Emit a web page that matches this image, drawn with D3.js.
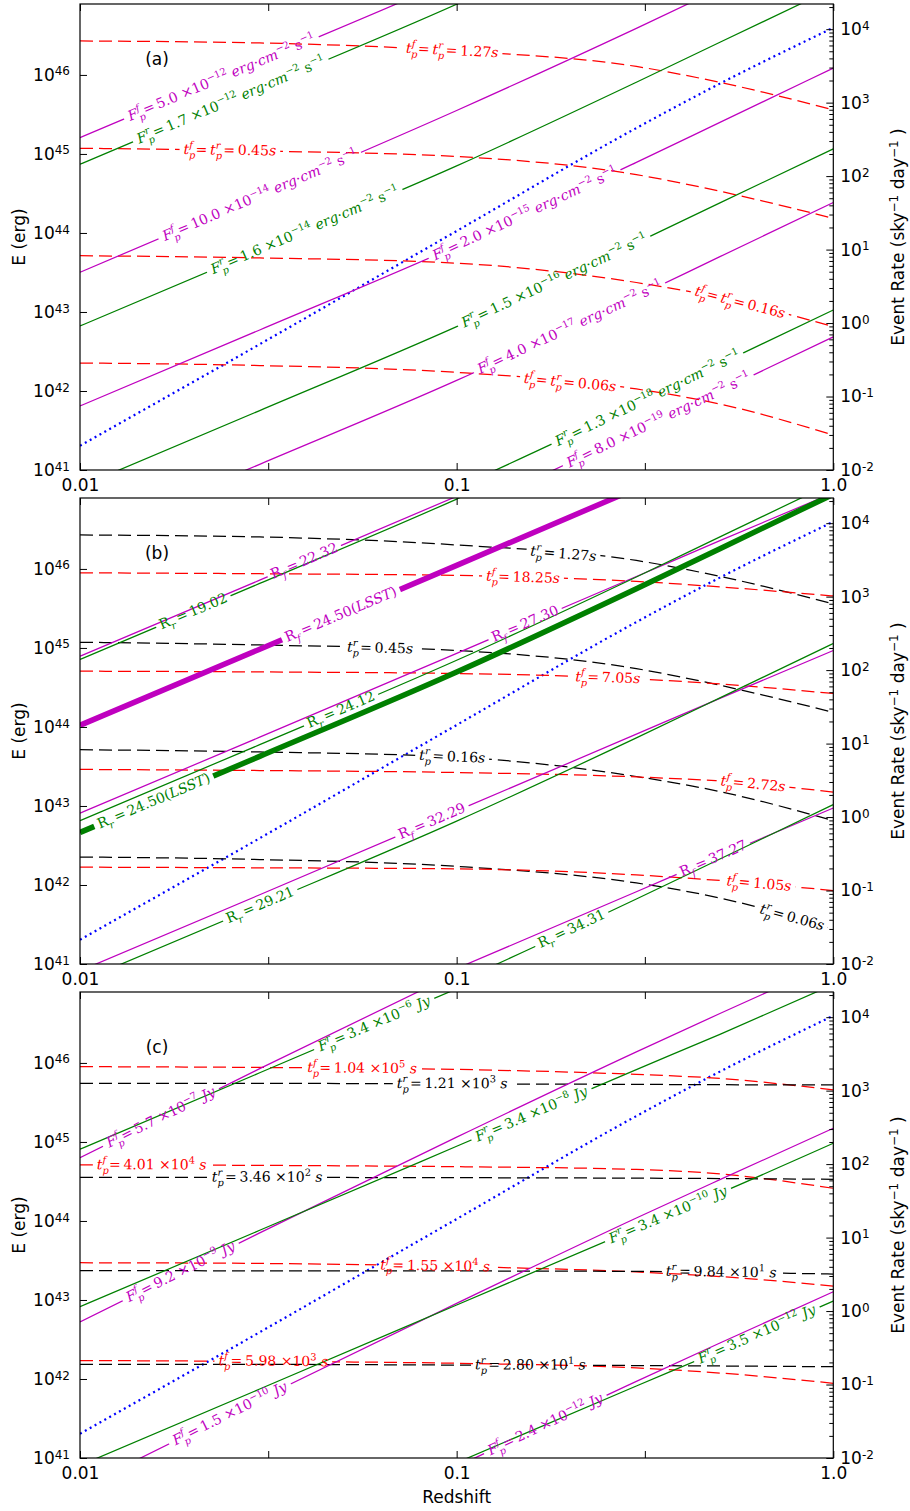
<!DOCTYPE html>
<html>
<head>
<meta charset="utf-8">
<script src="https://cdn.jsdelivr.net/npm/d3@7"></script>
<style>
  body { margin: 0; background: #fff; }
</style>
</head>
<body>
<div id="chart"></div>
<script>
// redshift grid shared by every curve
const zs = [0.01, 0.03, 0.1, 0.3, 0.5, 1.0];

// event rate (sky^-1 day^-1), right axis, same in all panels
const rate = [0.0214, 0.515, 17.9, 451, 1815, 10470];

// peak times, E (erg) along zs
const t127 = [2.69e46, 2.54e46, 2.01e46, 1.28e46, 8.05e45, 3.61e45];
const t045 = [1.18e45, 1.09e45, 9.29e44, 5.47e44, 3.37e44, 1.53e44];
const t016 = [5.15e43, 4.83e43, 4.14e43, 2.36e43, 1.52e43, 6.52e42];
const t006 = [2.26e42, 2.10e42, 1.72e42, 1.06e42, 6.84e41, 2.77e41];

// (a) peak flux curves
const aF50e12 = [1.61e45, 1.47e46, 1.70e47, 1.95e48, 6.25e48, 3.03e49];
const aR17e12 = [7.41e44, 6.79e45, 7.85e46, 8.99e47, 2.88e48, 1.40e49];
const aF10e14 = [3.18e43, 2.95e44, 3.55e45, 3.89e46, 1.23e47, 6.03e47];
const aR16e14 = [6.65e42, 6.10e43, 7.05e44, 8.07e45, 2.59e46, 1.25e47];
const aF20e15 = [6.46e41, 5.92e42, 6.84e43, 7.83e44, 2.51e45, 1.22e46];
const aR15e16 = [6.17e40, 5.65e41, 6.53e42, 7.48e43, 2.40e44, 1.16e45];
const aF40e17 = [1.29e40, 1.18e41, 1.36e42, 1.56e43, 5.01e43, 2.43e44];
const aR13e18 = [5.62e38, 5.15e39, 5.96e40, 6.82e41, 2.19e42, 1.06e43];
const aF80e19 = [2.57e38, 2.36e39, 2.72e40, 3.12e41, 1.00e42, 4.84e42];

// (b) R-band magnitude curves
const bRf2232 = [7.87e44, 7.21e45, 8.30e46, 7.78e47, 2.21e48, 8.91e48];
const bRf2450 = [1.05e44, 9.64e44, 1.11e46, 1.04e47, 2.95e47, 1.19e48];
const bRf2730 = [8.11e42, 7.43e43, 8.55e44, 8.02e45, 2.28e46, 9.18e46];
const bRf3229 = [8.20e40, 7.52e41, 8.65e42, 8.11e43, 2.30e44, 9.29e44];
const bRf3727 = [8.32e38, 7.62e39, 8.77e40, 8.22e41, 2.33e42, 9.42e42];
const bRr1902 = [7.14e44, 6.55e45, 7.66e46, 8.67e47, 2.78e48, 1.36e49];
const bRr2412 = [6.52e42, 5.97e43, 6.98e44, 7.91e45, 2.54e46, 1.24e47];
const bRr2450 = [4.62e42, 4.24e43, 4.95e44, 5.61e45, 1.80e46, 8.81e46];
const bRr2921 = [6.00e40, 5.50e41, 6.43e42, 7.28e43, 2.33e44, 1.14e45];
const bRr3431 = [5.47e38, 5.01e39, 5.86e40, 6.64e41, 2.13e42, 1.04e43];
const bTf1825 = [8.93e45, 8.69e45, 8.28e45, 6.95e45, 5.92e45, 4.55e45];
const bTf705 = [5.08e44, 4.97e44, 4.75e44, 4.06e44, 3.50e44, 2.65e44];
const bTf272 = [2.90e43, 2.81e43, 2.65e43, 2.33e43, 2.07e43, 1.50e43];
const bTf105 = [1.68e42, 1.65e42, 1.60e42, 1.34e42, 1.14e42, 8.51e41];

// (c) radio curves
const cFf57e7 = [6.32e44, 8.47e45, 1.37e47, 1.66e48, 5.06e48, 2.26e49];
const cFr34e6 = [8.09e44, 7.50e45, 8.67e46, 8.11e47, 2.26e48, 9.66e48];
const cFf92e9 = [5.27e42, 7.06e43, 1.15e45, 1.38e46, 4.22e46, 1.88e47];
const cFr34e8 = [8.22e42, 7.62e43, 8.81e44, 8.24e45, 2.30e46, 9.82e46];
const cFf15e10 = [4.17e40, 5.58e41, 9.06e42, 1.09e44, 3.33e44, 1.49e45];
const cFr34e10 = [8.05e40, 7.46e41, 8.63e42, 8.07e43, 2.25e44, 9.62e44];
const cFf24e12 = [3.56e38, 4.78e39, 7.74e40, 9.33e41, 2.85e42, 1.27e43];
const cFr35e12 = [8.13e38, 7.53e39, 8.71e40, 8.15e41, 2.28e42, 9.70e42];
const cTf104e5 = [8.97e45, 8.77e45, 8.28e45, 7.15e45, 6.37e45, 4.55e45];
const cTr121e3 = [5.53e45, 5.52e45, 5.42e45, 5.35e45, 5.30e45, 5.27e45];
const cTf401e4 = [5.12e44, 5.05e44, 4.86e44, 4.49e44, 3.94e44, 2.59e44];
const cTr346e2 = [3.57e44, 3.56e44, 3.53e44, 3.48e44, 3.44e44, 3.37e44];
const cTf155e4 = [2.96e43, 2.90e43, 2.65e43, 2.26e43, 1.98e43, 1.50e43];
const cTr984e1 = [2.35e43, 2.34e43, 2.33e43, 2.30e43, 2.24e43, 2.13e43];
const cTf598e3 = [1.71e42, 1.67e42, 1.58e42, 1.38e42, 1.19e42, 8.83e41];
const cTr280e1 = [1.53e42, 1.53e42, 1.50e42, 1.48e42, 1.46e42, 1.43e42];

// axis ticks
const xTickVals = [0.01, 0.0316, 0.1, 0.316, 1.0];
const xTickLabels = ['0.01', '', '0.1', '', '1.0'];
const eTicks = [1e41, 1e42, 1e43, 1e44, 1e45, 1e46];
const rTicks = [1e-2, 1e-1, 1e0, 1e1, 1e2, 1e3, 1e4];

const M = '#bf00bf', G = '#008000', R = '#ff0000', K = '#000000', B = '#0000ff';
const UNIT = ' erg·cm^{−2} ~s~^{−1}';

const panels = [
  { tag: '(a)', curves: [
    { v: t127, c: R, dash: true, t: 't_{p}^{f} = t_{p}^{r} = 1.27s', at: 0.0973 },
    { v: t045, c: R, dash: true, t: 't_{p}^{f} = t_{p}^{r} = 0.45s', at: 0.0250 },
    { v: t016, c: R, dash: true, t: 't_{p}^{f} = t_{p}^{r} = 0.16s', at: 0.565 },
    { v: t006, c: R, dash: true, t: 't_{p}^{f} = t_{p}^{r} = 0.06s', at: 0.200 },
    { v: aF50e12, c: M, t: 'F_{p}^{f} = 5.0 ×10^{−12}' + UNIT, at: 0.0238 },
    { v: aR17e12, c: G, t: 'F_{p}^{r} = 1.7 ×10^{−12}' + UNIT, at: 0.0252 },
    { v: aF10e14, c: M, t: 'F_{p}^{f} = 10.0 ×10^{−14}' + UNIT, at: 0.0301 },
    { v: aR16e14, c: G, t: 'F_{p}^{r} = 1.6 ×10^{−14}' + UNIT, at: 0.0396 },
    { v: aF20e15, c: M, t: 'F_{p}^{f} = 2.0 ×10^{−15}' + UNIT, at: 0.152 },
    { v: aR15e16, c: G, t: 'F_{p}^{r} = 1.5 ×10^{−16}' + UNIT, at: 0.182 },
    { v: aF40e17, c: M, t: 'F_{p}^{f} = 4.0 ×10^{−17}' + UNIT, at: 0.200 },
    { v: aR13e18, c: G, t: 'F_{p}^{r} = 1.3 ×10^{−18}' + UNIT, at: 0.322 },
    { v: aF80e19, c: M, t: 'F_{p}^{f} = 8.0 ×10^{−19}' + UNIT, at: 0.344 }
  ]},
  { tag: '(b)', curves: [
    { v: t127, c: K, dash: true, t: 't_{p}^{r} = 1.27s', at: 0.192 },
    { v: bTf1825, c: R, dash: true, t: 't_{p}^{f} = 18.25s', at: 0.150 },
    { v: t045, c: K, dash: true, t: 't_{p}^{r} = 0.45s', at: 0.0626 },
    { v: bTf705, c: R, dash: true, t: 't_{p}^{f} = 7.05s', at: 0.252 },
    { v: t016, c: K, dash: true, t: 't_{p}^{r} = 0.16s', at: 0.0973 },
    { v: bTf272, c: R, dash: true, t: 't_{p}^{f} = 2.72s', at: 0.612 },
    { v: t006, c: K, dash: true, t: 't_{p}^{r} = 0.06s', at: 0.777 },
    { v: bTf105, c: R, dash: true, t: 't_{p}^{f} = 1.05s', at: 0.635 },
    { v: bRf2232, c: M, t: '~R~_{f} = 22.32', at: 0.0394 },
    { v: bRr1902, c: G, t: '~R~_{r} = 19.02', at: 0.0200 },
    { v: bRf2450, c: M, thick: true, t: '~R~_{f} = 24.50(LSST)', at: 0.0493 },
    { v: bRf2730, c: M, t: '~R~_{f} = 27.30', at: 0.152 },
    { v: bRr2412, c: G, t: '~R~_{r} = 24.12', at: 0.0493 },
    { v: bRr2450, c: G, thick: true, t: '~R~_{r} = 24.50(LSST)', at: 0.0157 },
    { v: bRf3229, c: M, t: '~R~_{f} = 32.29', at: 0.0860 },
    { v: bRr2921, c: G, t: '~R~_{r} = 29.21', at: 0.0301 },
    { v: bRf3727, c: M, t: '~R~_{f} = 37.27', at: 0.480 },
    { v: bRr3431, c: G, t: '~R~_{r} = 34.31', at: 0.202 }
  ]},
  { tag: '(c)', curves: [
    { v: cTf104e5, c: R, dash: true, t: 't_{p}^{f} = 1.04 ×10^{5} s', at: 0.0561 },
    { v: cTr121e3, c: K, dash: true, t: 't_{p}^{r} = 1.21 ×10^{3} s', at: 0.0973 },
    { v: cTf401e4, c: R, dash: true, t: 't_{p}^{f} = 4.01 ×10^{4} s', at: 0.0155 },
    { v: cTr346e2, c: K, dash: true, t: 't_{p}^{r} = 3.46 ×10^{2} s', at: 0.0314 },
    { v: cTf155e4, c: R, dash: true, t: 't_{p}^{f} = 1.55 ×10^{4} s', at: 0.0877 },
    { v: cTr984e1, c: K, dash: true, t: 't_{p}^{r} = 9.84 ×10^{1} s', at: 0.504 },
    { v: cTf598e3, c: R, dash: true, t: 't_{p}^{f} = 5.98 ×10^{3} s', at: 0.0326 },
    { v: cTr280e1, c: K, dash: true, t: 't_{p}^{r} = 2.80 ×10^{1} s', at: 0.157 },
    { v: cFf57e7, c: M, t: 'F_{p}^{f} = 5.7 ×10^{−7} Jy', at: 0.0164 },
    { v: cFr34e6, c: G, t: 'F_{p}^{r} = 3.4 ×10^{−6} Jy', at: 0.0604 },
    { v: cFf92e9, c: M, t: 'F_{p}^{f} = 9.2 ×10^{−9} Jy', at: 0.0185 },
    { v: cFr34e8, c: G, t: 'F_{p}^{r} = 3.4 ×10^{−8} Jy', at: 0.158 },
    { v: cFf15e10, c: M, t: 'F_{p}^{f} = 1.5 ×10^{−10} Jy', at: 0.0250 },
    { v: cFr34e10, c: G, t: 'F_{p}^{r} = 3.4 ×10^{−10} Jy', at: 0.364 },
    { v: cFf24e12, c: M, t: 'F_{p}^{f} = 2.4 ×10^{−12} Jy', at: 0.172 },
    { v: cFr35e12, c: G, t: 'F_{p}^{r} = 3.5 ×10^{−12} Jy', at: 0.627 }
  ]}
];

// layout
const width = 910, height = 1511;
const X0 = 80, X1 = 833.3, PH = 466;
const tops = [4, 498, 992];
const FS = 14;            // label font size
const TICK_FS = 17;

const x = d3.scaleLog().domain([0.01, 1]).range([X0, X1]);
const yE = d3.scaleLog().domain([1e41, 7.9e46]).range([PH, 0]);
const yR = d3.scaleLog().domain([1e-2, 2.2e4]).range([PH, 0]);

const svg = d3.select('#chart')
  .append('svg')
  .attr('width', width)
  .attr('height', height)
  .style('font-family', '"DejaVu Sans", sans-serif');

const defs = svg.append('defs');
let uid = 0;

// tiny mathtext: _{..} sub, ^{..} sup, ~..~ upright letters
function parseMath(str) {
  const toks = [];
  let buf = '';
  const flush = () => { if (buf) toks.push({ kind: 'base', s: buf }); buf = ''; };
  let i = 0;
  while (i < str.length) {
    const ch = str[i];
    if ((ch === '_' || ch === '^') && str[i + 1] === '{') {
      flush();
      const end = str.indexOf('}', i);
      const prev = toks[toks.length - 1];
      toks.push({ kind: ch === '_' ? 'sub' : 'sup', s: str.slice(i + 2, end),
                  stack: ch === '^' && prev && prev.kind === 'sub' });
      i = end + 1;
    } else { buf += ch; i++; }
  }
  flush();
  return toks;
}

function mathText(g, str, fs, color) {
  const text = g.append('text')
    .attr('fill', color)
    .attr('font-size', fs)
    .attr('text-anchor', 'middle')
    .attr('y', fs * 0.3)
    .style('font-family', '"DejaVu Serif", serif')
    .style('white-space', 'pre');
  let cur = 0, subLen = 0;
  parseMath(str.replace(/ = /g, '\u2009=\u2009')).forEach(tok => {
    const size = tok.kind === 'base' ? fs : fs * 0.7;
    const shift = tok.kind === 'sub' ? fs * 0.32 : tok.kind === 'sup' ? -fs * 0.42 : 0;
    const spans = [];
    tok.s.split('~').forEach((seg, k) => {
      const parts = k % 2 ? [seg] : (seg.match(/[A-Za-z]+|[^A-Za-z]+/g) || []);
      parts.forEach(p => {
        if (!p) return;
        spans.push(text.append('tspan')
          .attr('font-size', size)
          .attr('font-style', k % 2 === 0 && /[A-Za-z]/.test(p) ? 'italic' : 'normal')
          .text(p));
      });
    });
    if (spans.length) {
      spans[0].attr('dy', shift - cur);
      if (tok.stack) spans[0].attr('dx', -subLen);
    }
    cur = shift;
    if (tok.kind === 'sub') subLen = d3.sum(spans, s => s.node().getComputedTextLength());
  });
  return text;
}

function interpY(pts, px) {
  for (let i = 1; i < pts.length; i++) {
    if (px <= pts[i][0]) {
      const [x0, y0] = pts[i - 1], [x1, y1] = pts[i];
      return y0 + (y1 - y0) * (px - x0) / (x1 - x0);
    }
  }
  return pts[pts.length - 1][1];
}

const line = d3.line().curve(d3.curveMonotoneX);

panels.forEach((p, pi) => {
  const g = svg.append('g').attr('transform', `translate(0,${tops[pi]})`);

  const clipId = 'clip' + pi;
  defs.append('clipPath').attr('id', clipId)
    .append('rect').attr('x', X0).attr('y', 0).attr('width', X1 - X0).attr('height', PH);

  const plot = g.append('g').attr('clip-path', `url(#${clipId})`);
  const labels = g.append('g');

  // event rate, right axis
  plot.append('path')
    .attr('d', line(zs.map((z, i) => [x(z), yR(rate[i])])))
    .attr('fill', 'none')
    .attr('stroke', B)
    .attr('stroke-width', 2.2)
    .attr('stroke-dasharray', '2,3.6');

  p.curves.forEach(c => {
    const pts = zs.map((z, i) => [x(z), yE(c.v[i])]);
    const path = plot.append('path')
      .attr('d', line(pts))
      .attr('fill', 'none')
      .attr('stroke', c.c)
      .attr('stroke-width', c.thick ? 5.5 : 1.25)
      .attr('stroke-dasharray', c.dash ? '13,6' : null);

    const cx = x(c.at), cy = interpY(pts, cx);
    const ang = Math.atan2(interpY(pts, cx + 8) - interpY(pts, cx - 8), 16) * 180 / Math.PI;
    const tf = `translate(${cx},${cy}) rotate(${ang})`;
    const lg = labels.append('g').attr('transform', tf);
    const txt = mathText(lg, c.t, FS, c.c);
    const bb = txt.node().getBBox();

    const id = 'gap' + (uid++);
    const m = defs.append('mask').attr('id', id)
      .attr('maskUnits', 'userSpaceOnUse')
      .attr('x', -200).attr('y', -200).attr('width', 1400).attr('height', 900);
    m.append('rect').attr('x', -200).attr('y', -200).attr('width', 1400).attr('height', 900).attr('fill', '#fff');
    m.append('rect').attr('transform', tf)
      .attr('x', bb.x - 4).attr('y', bb.y - 1)
      .attr('width', bb.width + 8).attr('height', bb.height + 2)
      .attr('fill', '#000');
    path.attr('mask', `url(#${id})`);
  });

  // panel tag
  g.append('text')
    .attr('x', 157).attr('y', 61)
    .attr('text-anchor', 'middle')
    .attr('font-size', 17)
    .text(p.tag);

  // frame
  g.append('rect')
    .attr('x', X0).attr('y', 0)
    .attr('width', X1 - X0).attr('height', PH)
    .attr('fill', 'none').attr('stroke', '#000').attr('stroke-width', 1.2);

  // x axis (bottom + top), ticks inside
  const xb = g.append('g').attr('transform', `translate(0,${PH})`)
    .call(d3.axisBottom(x).tickValues(xTickVals).tickSize(-7).tickPadding(9)
      .tickFormat((d, i) => xTickLabels[i]));
  const xtop = g.append('g')
    .call(d3.axisTop(x).tickValues(xTickVals).tickSize(-7).tickFormat(''));

  // left axis
  const yl = g.append('g').attr('transform', `translate(${X0},0)`)
    .call(d3.axisLeft(yE).tickValues(eTicks).tickSize(-7).tickPadding(10)
      .tickFormat(d => Math.round(Math.log10(d))));

  // right axis, major + minor
  const yr = g.append('g').attr('transform', `translate(${X1},0)`)
    .call(d3.axisRight(yR).tickValues(rTicks).tickSize(-7).tickPadding(7)
      .tickFormat(d => Math.round(Math.log10(d))));
  const minors = [];
  rTicks.forEach(t => { for (let k = 2; k <= 9; k++) if (t * k <= 2.2e4) minors.push(t * k); });
  const yrm = g.append('g').attr('transform', `translate(${X1},0)`)
    .call(d3.axisRight(yR).tickValues(minors).tickSize(-4).tickFormat(''));

  [xb, xtop, yl, yr, yrm].forEach(a => {
    a.select('.domain').remove();
    a.attr('font-family', null).attr('font-size', null);
    a.selectAll('line').attr('stroke', '#000').attr('stroke-width', 1);
    a.selectAll('text').attr('font-size', TICK_FS).attr('fill', '#000');
  });

  // power-of-ten labels
  [yl, yr].forEach(a => {
    a.selectAll('text').each(function () {
      const s = d3.select(this);
      const e = s.text();
      s.text('');
      s.append('tspan').text('10');
      s.append('tspan').attr('font-size', 12).attr('dy', '-0.45em').text(e);
    });
  });

  // axis titles
  g.append('text')
    .attr('transform', `translate(25,${PH / 2}) rotate(-90)`)
    .attr('text-anchor', 'middle')
    .attr('font-size', 17)
    .text('E (erg)');
  const rt = g.append('text')
    .attr('transform', `translate(904,${PH / 2}) rotate(-90)`)
    .attr('text-anchor', 'middle')
    .attr('font-size', 17);
  rt.append('tspan').text('Event Rate (sky');
  rt.append('tspan').attr('font-size', 12).attr('dy', '-0.5em').text('−1');
  rt.append('tspan').attr('dy', '0.35em').text(' day');
  rt.append('tspan').attr('font-size', 12).attr('dy', '-0.5em').text('−1');
  rt.append('tspan').attr('dy', '0.35em').text(' )');
});

svg.append('text')
  .attr('x', (X0 + X1) / 2).attr('y', 1503)
  .attr('text-anchor', 'middle')
  .attr('font-size', 17)
  .text('Redshift');
</script>
</body>
</html>
